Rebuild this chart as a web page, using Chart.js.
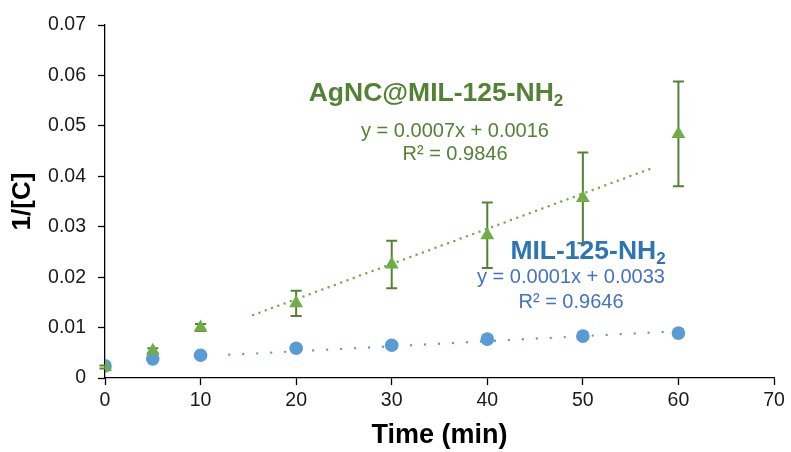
<!DOCTYPE html>
<html>
<head>
<meta charset="utf-8">
<script src="https://cdn.jsdelivr.net/npm/chart.js@4.4.1/dist/chart.umd.min.js"></script>
<style>
    html, body { margin: 0; padding: 0; background: #fff; }
    #chart { display: block; }
</style>
</head>
<body>
<canvas id="chart" width="791" height="452"></canvas>
<script>
// Values.
const times = [0, 5, 10, 20, 30, 40, 50, 60];
const agncValues = [0.0022, 0.0054, 0.0100, 0.0148, 0.0225, 0.0283, 0.0357, 0.0484];
const agncErrors = [0.0003, 0.0005, 0.0007, 0.0025, 0.0047, 0.0065, 0.0090, 0.0104];
const milValues = [0.0024, 0.0038, 0.0045, 0.0059, 0.0065, 0.0077, 0.0083, 0.0089];

// Trendline end points (as drawn in the picture).
const agncTrendX = [15.5, 57.5];
const agncTrendY = [0.0125, 0.0418];
const milTrendX = [13, 59];
const milTrendY = [0.0046, 0.0092];

const xTickValues = [0, 10, 20, 30, 40, 50, 60, 70];
const yTickValues = [0, 0.01, 0.02, 0.03, 0.04, 0.05, 0.06, 0.07];

const agncLabel = ['AgNC@MIL-125-NH', '2'];
const agncEquation = 'y = 0.0007x + 0.0016';
const agncR2 = 'R² = 0.9846';
const milLabel = ['MIL-125-NH', '2'];
const milEquation = 'y = 0.0001x + 0.0033';
const milR2 = 'R² = 0.9646';

const GREEN = '#70AD47';
const GREEN_DARK = '#548235';
const BLUE = '#5B9BD5';
const BLUE_TITLE = '#2E75B6';
const BLUE_TEXT = '#4472C4';
const FONT = '"Liberation Sans", Arial, sans-serif';

const toPoints = (xs, ys) => xs.map((x, i) => ({x: x, y: ys[i]}));

/**
 * Vertical error bars with caps, drawn under the markers.
 */
const errorBars = {
    id: 'errorBars',
    beforeDatasetsDraw(chart) {
        const {ctx, scales: {x, y}} = chart;
        ctx.save();
        ctx.strokeStyle = GREEN_DARK;
        ctx.lineWidth = 2;
        times.forEach((t, i) => {
            const px = x.getPixelForValue(t);
            const top = y.getPixelForValue(agncValues[i] + agncErrors[i]);
            const bot = y.getPixelForValue(agncValues[i] - agncErrors[i]);
            ctx.beginPath();
            ctx.moveTo(px, top);
            ctx.lineTo(px, bot);
            ctx.moveTo(px - 5.5, top);
            ctx.lineTo(px + 5.5, top);
            ctx.moveTo(px - 5.5, bot);
            ctx.lineTo(px + 5.5, bot);
            ctx.stroke();
        });
        ctx.restore();
    },
};

/**
 * Draw text with a trailing subscript, centred on cx.
 */
const drawSubscripted = (ctx, parts, cx, baseline, size, color) => {
    ctx.font = `bold ${size}px ${FONT}`;
    const mainW = ctx.measureText(parts[0]).width;
    const subSize = Math.round(size * 0.66);
    ctx.font = `bold ${subSize}px ${FONT}`;
    const subW = ctx.measureText(parts[1]).width;
    const start = cx - (mainW + subW) / 2;
    ctx.fillStyle = color;
    ctx.textAlign = 'left';
    ctx.textBaseline = 'alphabetic';
    ctx.font = `bold ${size}px ${FONT}`;
    ctx.fillText(parts[0], start, baseline);
    ctx.font = `bold ${subSize}px ${FONT}`;
    ctx.fillText(parts[1], start + mainW, baseline + size * 0.2);
};

/**
 * Series names and trendline equations.
 */
const annotations = {
    id: 'annotations',
    afterDraw(chart) {
        const ctx = chart.ctx;
        ctx.save();
        drawSubscripted(ctx, agncLabel, 436, 101, 26.5, GREEN_DARK);
        ctx.font = `20px ${FONT}`;
        ctx.textAlign = 'center';
        ctx.textBaseline = 'alphabetic';
        ctx.fillStyle = GREEN_DARK;
        ctx.fillText(agncEquation, 455, 137);
        ctx.fillText(agncR2, 455, 160);

        drawSubscripted(ctx, milLabel, 588, 259, 26.5, BLUE_TITLE);
        ctx.font = `20px ${FONT}`;
        ctx.textAlign = 'center';
        ctx.fillStyle = BLUE_TEXT;
        ctx.fillText(milEquation, 571, 283);
        ctx.fillText(milR2, 571, 308);
        ctx.restore();
    },
};

const axisGrid = {
    drawOnChartArea: false,
    drawTicks: true,
    tickLength: 7,
    tickColor: '#000',
    tickWidth: 1.3,
    color: '#000',
};

new Chart(document.getElementById('chart'), {
    type: 'scatter',
    data: {
        datasets: [
            {
                label: 'AgNC@MIL-125-NH2',
                data: toPoints(times, agncValues),
                pointStyle: 'triangle',
                pointRadius: 8,
                backgroundColor: GREEN,
                borderColor: GREEN,
                borderWidth: 0,
                order: 0,
            },
            {
                label: 'MIL-125-NH2',
                data: toPoints(times, milValues),
                pointStyle: 'circle',
                pointRadius: 6.8,
                backgroundColor: BLUE,
                borderColor: BLUE,
                borderWidth: 0,
                order: 1,
            },
            {
                type: 'line',
                label: 'AgNC trend',
                data: toPoints(agncTrendX, agncTrendY),
                borderColor: GREEN,
                borderWidth: 2.5,
                borderDash: [0, 6.7],
                borderCapStyle: 'round',
                pointRadius: 0,
                fill: false,
                order: 2,
            },
            {
                type: 'line',
                label: 'MIL trend',
                data: toPoints(milTrendX, milTrendY),
                borderColor: BLUE,
                borderWidth: 2.4,
                borderDash: [0, 14],
                borderCapStyle: 'round',
                pointRadius: 0,
                fill: false,
                order: 3,
            },
        ],
    },
    options: {
        responsive: false,
        animation: false,
        devicePixelRatio: 1,
        layout: {padding: {top: 25, right: 17, left: 0, bottom: 0}},
        plugins: {legend: {display: false}, tooltip: {enabled: false}},
        scales: {
            x: {
                type: 'linear',
                min: 0,
                max: 70,
                afterBuildTicks: (scale) => {
                    scale.ticks = xTickValues.map(v => ({value: v}));
                },
                afterFit: (scale) => {
                    scale.height = 74;
                },
                grid: axisGrid,
                border: {display: true, color: '#000', width: 1.3},
                ticks: {
                    color: '#1a1a1a',
                    padding: 4,
                    maxRotation: 0,
                    font: {family: FONT, size: 19.5},
                },
                title: {
                    display: true,
                    text: 'Time (min)',
                    color: '#000',
                    padding: {top: 0, bottom: 0},
                    font: {family: FONT, size: 27, weight: 'bold'},
                },
            },
            y: {
                type: 'linear',
                min: 0,
                max: 0.07,
                afterBuildTicks: (scale) => {
                    scale.ticks = yTickValues.map(v => ({value: v}));
                },
                afterFit: (scale) => {
                    scale.width = 105;
                },
                grid: axisGrid,
                border: {display: true, color: '#000', width: 1.3},
                ticks: {
                    color: '#1a1a1a',
                    padding: 12,
                    font: {family: FONT, size: 19.5},
                    callback: (value) => (value === 0 ? '0' : value.toFixed(2)),
                },
                title: {
                    display: true,
                    text: '1/[C]',
                    color: '#000',
                    padding: {top: 7, bottom: 0},
                    font: {family: FONT, size: 26, weight: 'bold'},
                },
            },
        },
    },
    plugins: [errorBars, annotations],
});
</script>
</body>
</html>
